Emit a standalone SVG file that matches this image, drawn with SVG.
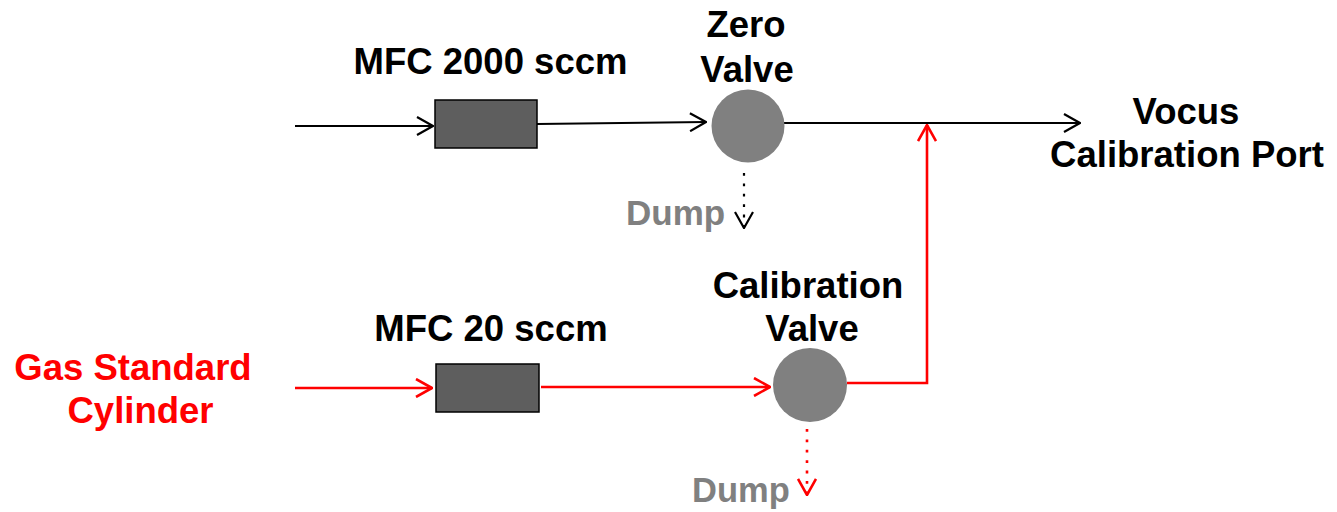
<svg xmlns="http://www.w3.org/2000/svg" width="1337" height="512" viewBox="0 0 1337 512">
  <style>
    .lbl { font-family: "Liberation Sans", Arial, sans-serif; font-weight: bold; font-size: 36.5px; fill: #000; text-anchor: middle; }
    .red { fill: #ff0000; }
    .dump { font-family: "Liberation Sans", Arial, sans-serif; font-weight: bold; font-size: 35px; fill: #808080; }
    .mfc { fill: #5e5e5e; stroke: #000; stroke-width: 1.5; }
    .valve { fill: #808080; }
    .blk { fill: none; stroke: #000; stroke-width: 2.2; }
    .rd { fill: none; stroke: #ff0000; stroke-width: 2.6; }
    .dotted { stroke-dasharray: 2.8 7.6; }
  </style>
  <defs>
    <marker id="ab" viewBox="0 0 18 20" refX="17" refY="10" markerWidth="18" markerHeight="20" markerUnits="userSpaceOnUse" orient="auto">
      <path d="M1,1 L17,10 L1,19" fill="none" stroke="#000" stroke-width="2.2"/>
    </marker>
    <marker id="ar" viewBox="0 0 18 20" refX="17" refY="10" markerWidth="18" markerHeight="20" markerUnits="userSpaceOnUse" orient="auto">
      <path d="M1,1 L17,10 L1,19" fill="none" stroke="#ff0000" stroke-width="2.6"/>
    </marker>
  </defs>

  <g id="connectors">
    <path class="blk" d="M295,126 L433,126" marker-end="url(#ab)"/>
    <path class="blk" d="M537,124 L706,122" marker-end="url(#ab)"/>
    <path class="blk" d="M784,123 L1080,123" marker-end="url(#ab)"/>
    <path class="blk dotted" d="M744,173 L744,228" marker-end="url(#ab)"/>
    <path class="rd" d="M295,388 L432,388" marker-end="url(#ar)"/>
    <path class="rd" d="M541,387 L770,387" marker-end="url(#ar)"/>
    <path class="rd" d="M847,383 L927,383 L927,125" marker-end="url(#ar)"/>
    <path class="rd dotted" d="M807,429 L807,495" marker-end="url(#ar)"/>
  </g>

  <g id="mfc-2000">
    <rect class="mfc" x="435" y="100" width="102" height="48"/>
    <text class="lbl" x="490.5" y="74">MFC 2000 sccm</text>
  </g>

  <g id="zero-valve">
    <circle class="valve" cx="748" cy="126" r="36.5"/>
    <text class="lbl" x="746" y="37">Zero</text>
    <text class="lbl" x="747" y="82">Valve</text>
  </g>

  <g id="dump-zero">
    <text class="dump" x="626" y="225">Dump</text>
  </g>

  <g id="vocus-port">
    <text class="lbl" x="1186" y="124">Vocus</text>
    <text class="lbl" x="1187" y="167">Calibration Port</text>
  </g>

  <g id="gas-standard">
    <text class="lbl red" x="133" y="380">Gas Standard</text>
    <text class="lbl red" x="140.5" y="423">Cylinder</text>
  </g>

  <g id="mfc-20">
    <rect class="mfc" x="436" y="364" width="103" height="48"/>
    <text class="lbl" x="491" y="341">MFC 20 sccm</text>
  </g>

  <g id="calibration-valve">
    <circle class="valve" cx="810" cy="385" r="37"/>
    <text class="lbl" x="808" y="298">Calibration</text>
    <text class="lbl" x="812" y="341">Valve</text>
  </g>

  <g id="dump-cal">
    <text class="dump" x="692" y="502" style="font-size:34.5px">Dump</text>
  </g>
</svg>
